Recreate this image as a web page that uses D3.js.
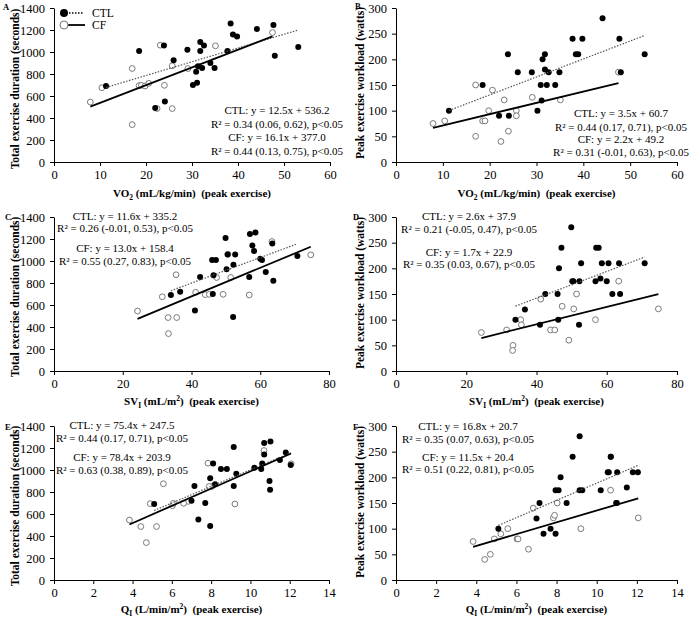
<!DOCTYPE html>
<html>
<head>
<meta charset="utf-8">
<script src="https://cdn.jsdelivr.net/npm/d3@7"></script>
<style>
  html, body { margin: 0; padding: 0; background: #fff; }
  svg { display: block; }
  text { font-family: "Liberation Serif", "Times New Roman", serif; fill: #000; }
</style>
</head>
<body>
<svg id="chart" width="690" height="617"></svg>
<script>
// ---------- DATA ----------
// Control subjects (filled circles)
const ctlVO2      = [11.3,18.5,22.0,23.9,24.1,26.0,29.0,30.2,30.9,31.1,31.3,31.8,31.8,32.2,32.6,34.0,34.9,37.7,38.4,38.9,39.8,44.1,47.7,48.0,53.1];
const ctlSV       = [34.0,46.0,52.1,52.7,41.0,50.2,60.0,46.2,63.8,36.7,46.4,60.5,58.2,42.5,50.5,61.6,56.8,47.1,58.6,63.5,57.7,49.9,57.0,52.2,70.8];
const ctlQ        = [5.1,8.5,7.95,10.6,7.35,7.95,10.2,7.7,11.0,7.0,8.2,10.55,11.5,7.15,8.1,10.97,9.15,8.8,11.02,11.8,10.7,9.15,10.7,9.28,12.05];
const ctlDuration = [690,1010,490,1060,550,925,1020,700,820,720,870,1010,1090,855,1060,900,855,1010,1260,1160,1140,1210,1245,965,1045];
const ctlWorkload = [100,150,90,210,90,175,175,100,150,120,200,210,180,150,175,150,175,240,210,210,240,280,240,175,210];

// CF subjects (open circles)
const cfVO2      = [7.9,10.4,17.0,17.0,18.5,19.0,19.8,20.6,22.4,23.1,24.0,25.7,25.7,29.1,35.1,47.5];
const cfSV       = [24.3,31.5,51.4,33.3,44.0,45.2,56.8,41.2,33.2,50.6,49.2,35.5,35.7,47.3,74.7,63.4];
const cfQ        = [3.84,6.03,8.03,4.7,4.9,6.08,9.21,6.84,4.42,7.84,6.6,5.57,5.22,7.9,12.07,10.69];
const cfDuration = [545,675,850,340,694,697,691,715,486,1062,697,875,486,850,1056,1177];
const cfWorkload = [75,80,150,50,80,80,100,140,40,121,60,100,90,126,121,175];

// Regression equations printed in panels A..F
const ctlSlope     = [12.5, 3.5, 11.6, 2.6, 75.4, 16.8];
const ctlIntercept = [536.2, 60.7, 335.2, 37.9, 247.5, 20.7];
const ctlR2        = ["0.34 (0.06, 0.62)", "0.44 (0.17, 0.71)", "0.26 (-0.01, 0.53)", "0.21 (-0.05, 0.47)", "0.44 (0.17, 0.71)", "0.35 (0.07, 0.63)"];
const cfSlope      = [16.1, 2.2, 13.0, 1.7, 78.4, 11.5];
const cfIntercept  = [377.0, 49.2, 158.4, 22.9, 203.9, 20.4];
const cfR2         = ["0.44 (0.13, 0.75)", "0.31 (-0.01, 0.63)", "0.55 (0.27, 0.83)", "0.35 (0.03, 0.67)", "0.63 (0.38, 0.89)", "0.51 (0.22, 0.81)"];

// Tick values
const ticksVO2      = [0,10,20,30,40,50,60];
const ticksSV       = [0,20,40,60,80];
const ticksQ        = [0,2,4,6,8,10,12,14];
const ticksDuration = [0,200,400,600,800,1000,1200,1400];
const ticksWorkload = [0,50,100,150,200,250,300];

const panelLetters = ["A","B","C","D","E","F"];
const durTitle = "Total exercise duration (seconds)";
const wlTitle  = "Peak exercise workload (watts)";

// ---------- LAYOUT ----------
const panels = [
  {xc: ctlVO2, xf: cfVO2, yc: ctlDuration, yf: cfDuration, xt: ticksVO2, yt: ticksDuration, xr:[54,330],  yr:[162,8],   xTitle:"vo2", yTitle: durTitle, lx:3,   ly:10,  eqX:277, eqY:[114,128,141,155], titleY:196.5, ytX:15,  ytY:89},
  {xc: ctlVO2, xf: cfVO2, yc: ctlWorkload, yf: cfWorkload, xt: ticksVO2, yt: ticksWorkload, xr:[396,677], yr:[162,8],   xTitle:"vo2", yTitle: wlTitle,  lx:355, ly:9,   eqX:621, eqY:[117,131,143,156], titleY:196.5, ytX:360, ytY:83},
  {xc: ctlSV,  xf: cfSV,  yc: ctlDuration, yf: cfDuration, xt: ticksSV,  yt: ticksDuration, xr:[54,329],  yr:[371,217], xTitle:"sv",  yTitle: durTitle, lx:5,   ly:220, eqX:125, eqY:[220,232,252,265], titleY:404.5, ytX:15,  ytY:297},
  {xc: ctlSV,  xf: cfSV,  yc: ctlWorkload, yf: cfWorkload, xt: ticksSV,  yt: ticksWorkload, xr:[396,677], yr:[371,217], xTitle:"sv",  yTitle: wlTitle,  lx:353, ly:220, eqX:469, eqY:[220,233,256,268], titleY:404.5, ytX:360, ytY:293},
  {xc: ctlQ,   xf: cfQ,   yc: ctlDuration, yf: cfDuration, xt: ticksQ,   yt: ticksDuration, xr:[54,329],  yr:[580,426], xTitle:"q",   yTitle: durTitle, lx:5,   ly:430, eqX:122, eqY:[429,442,461,474], titleY:613, ytX:15,  ytY:506},
  {xc: ctlQ,   xf: cfQ,   yc: ctlWorkload, yf: cfWorkload, xt: ticksQ,   yt: ticksWorkload, xr:[396,677], yr:[580,426], xTitle:"q",   yTitle: wlTitle,  lx:353, ly:430, eqX:468, eqY:[430,443,461,473], titleY:613, ytX:360, ytY:502}
];

const svg = d3.select("#chart");
svg.append("rect").attr("width",690).attr("height",617).attr("fill","#fff");

panels.forEach((p, i) => {
  const g = svg.append("g");
  const xs = d3.scaleLinear().domain(d3.extent(p.xt)).range(p.xr);
  const ys = d3.scaleLinear().domain(d3.extent(p.yt)).range(p.yr);

  // axes
  const xa = g.append("g").attr("transform", `translate(0,${p.yr[0]})`)
    .call(d3.axisBottom(xs).tickValues(p.xt).tickSize(4).tickSizeOuter(0).tickPadding(4).tickFormat(d3.format("d")));
  const ya = g.append("g").attr("transform", `translate(${p.xr[0]},0)`)
    .call(d3.axisLeft(ys).tickValues(p.yt).tickSize(4).tickSizeOuter(0).tickPadding(5).tickFormat(d3.format("d")));
  [xa, ya].forEach(a => {
    a.selectAll("path, line").attr("stroke", "#000").attr("stroke-width", 1);
    a.selectAll("text").attr("font-family", '"Liberation Serif", serif').attr("font-size", 12.5).attr("fill", "#000");
  });

  // CF points (open)
  g.append("g").selectAll("circle").data(p.xf.map((x, k) => [x, p.yf[k]])).join("circle")
    .attr("cx", d => xs(d[0])).attr("cy", d => ys(d[1])).attr("r", 2.9)
    .attr("fill", "#fff").attr("stroke", "#7a7a7a").attr("stroke-width", 1);
  // CTL points (filled)
  g.append("g").selectAll("circle").data(p.xc.map((x, k) => [x, p.yc[k]])).join("circle")
    .attr("cx", d => xs(d[0])).attr("cy", d => ys(d[1])).attr("r", 3)
    .attr("fill", "#000");

  // regression lines
  const line = d3.line().x(d => xs(d[0])).y(d => ys(d[1]));
  const cExt = d3.extent(p.xc), fExt = d3.extent(p.xf);
  g.append("path").datum(cExt.map(x => [x, ctlSlope[i] * x + ctlIntercept[i]]))
    .attr("d", line).attr("fill", "none").attr("stroke", "#555").attr("stroke-width", 1.2)
    .attr("stroke-dasharray", "1.5,1.5");
  g.append("path").datum(fExt.map(x => [x, cfSlope[i] * x + cfIntercept[i]]))
    .attr("d", line).attr("fill", "none").attr("stroke", "#000").attr("stroke-width", 1.8);

  // equations
  const eqs = [
    `CTL: y = ${ctlSlope[i].toFixed(1)}x + ${ctlIntercept[i].toFixed(1)}`,
    `R\u00B2 = ${ctlR2[i]}, p<0.05`,
    `CF: y = ${cfSlope[i].toFixed(1)}x + ${cfIntercept[i].toFixed(1)}`,
    `R\u00B2 = ${cfR2[i]}, p<0.05`
  ];
  g.append("g").selectAll("text").data(eqs).join("text")
    .attr("x", p.eqX).attr("y", (d, k) => p.eqY[k]).attr("text-anchor", "middle")
    .attr("font-size", 11).text(d => d);

  // panel letter
  g.append("text").attr("x", p.lx).attr("y", p.ly).attr("font-size", 8.5).attr("font-weight", "bold").text(panelLetters[i]);

  // y title
  g.append("text").attr("transform", `translate(${p.ytX + 4},${p.ytY}) rotate(-90)`)
    .attr("text-anchor", "middle").attr("font-size", 11.5).attr("font-weight", "bold").text(p.yTitle);

  // x title
  const xt = g.append("text").attr("x", (p.xr[0] + p.xr[1]) / 2).attr("y", p.titleY)
    .attr("text-anchor", "middle").attr("font-size", 11).attr("font-weight", "bold")
    .attr("xml:space", "preserve").style("white-space", "pre");
  if (p.xTitle === "vo2") {
    xt.append("tspan").text("VO");
    xt.append("tspan").attr("font-size", 7.5).attr("dy", 3).text("2");
    xt.append("tspan").attr("dy", -3).text(" (mL/kg/min)  (peak exercise)");
  } else if (p.xTitle === "sv") {
    xt.append("tspan").text("SV");
    xt.append("tspan").attr("font-size", 7.5).attr("dy", 3).text("I");
    xt.append("tspan").attr("dy", -3).text(" (mL/m");
    xt.append("tspan").attr("font-size", 7.5).attr("dy", -4).text("2");
    xt.append("tspan").attr("dy", 4).text(")  (peak exercise)");
  } else {
    xt.append("tspan").text("Q");
    xt.append("tspan").attr("font-size", 7.5).attr("dy", 3).text("I");
    xt.append("tspan").attr("dy", -3).text(" (L/min/m");
    xt.append("tspan").attr("font-size", 7.5).attr("dy", -4).text("2");
    xt.append("tspan").attr("dy", 4).text(")  (peak exercise)");
  }
});

// legend (panel A)
const lg = svg.append("g");
lg.append("line").attr("x1", 66).attr("x2", 84).attr("y1", 13).attr("y2", 13)
  .attr("stroke", "#000").attr("stroke-width", 1.5).attr("stroke-dasharray", "1.5,1.5");
lg.append("circle").attr("cx", 64).attr("cy", 13).attr("r", 4).attr("fill", "#000");
lg.append("text").attr("x", 92).attr("y", 17).attr("font-size", 11.5).text("CTL");
lg.append("line").attr("x1", 66).attr("x2", 85).attr("y1", 25).attr("y2", 25)
  .attr("stroke", "#000").attr("stroke-width", 1.8);
lg.append("circle").attr("cx", 64).attr("cy", 25).attr("r", 4).attr("fill", "#fff").attr("stroke", "#7a7a7a").attr("stroke-width", 1);
lg.append("text").attr("x", 92).attr("y", 29).attr("font-size", 11.5).text("CF");
</script>
</body>
</html>
